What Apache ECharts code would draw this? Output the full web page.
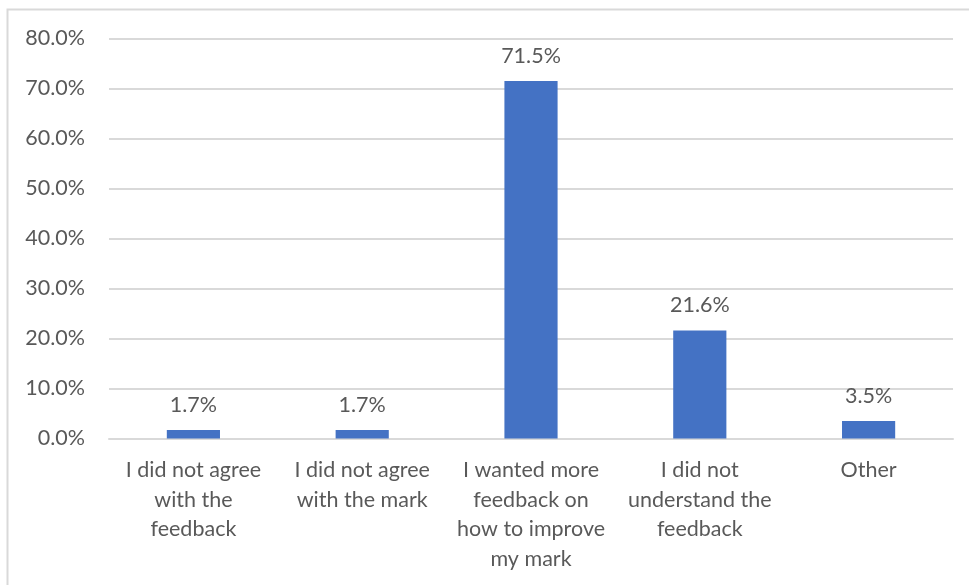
<!DOCTYPE html>
<html><head><meta charset="utf-8">
<script src="https://cdn.jsdelivr.net/npm/echarts@6/dist/echarts.min.js"></script>
<style>html,body{margin:0;padding:0;background:#fff}#c{width:969px;height:585px}</style>
</head><body><div id="c"></div>
<script>
const categories = ["I did not agree\nwith the\nfeedback", "I did not agree\nwith the mark", "I wanted more\nfeedback on\nhow to improve\nmy mark", "I did not\nunderstand the\nfeedback", "Other"];
const values = [1.7, 1.7, 71.5, 21.6, 3.5];
const chart = echarts.init(document.getElementById('c'), null, {renderer: 'canvas'});
const font = 'Lato, "Open Sans", sans-serif';
chart.setOption({
  animation: false,
  graphic: [{type: 'rect', shape: {x: 7.5, y: 9.5, width: 980, height: 600}, style: {fill: 'none', stroke: '#d9d9d9', lineWidth: 2}, silent: true}],
  grid: {left: 109, right: 16, top: 38.5, bottom: 146.5, containLabel: false},
  xAxis: {
    type: 'category', data: categories,
    axisLine: {show: true, lineStyle: {color: '#d9d9d9', width: 2}},
    axisTick: {show: false},
    axisLabel: {color: '#595959', fontSize: 21.5, fontFamily: font, lineHeight: 29.5, margin: 17, interval: 0, verticalAlign: 'top'}
  },
  yAxis: {
    type: 'value', min: 0, max: 80, interval: 10,
    axisLine: {show: false}, axisTick: {show: false},
    splitLine: {lineStyle: {color: '#d9d9d9', width: 2}},
    axisLabel: {color: '#595959', fontSize: 21.5, fontFamily: font, margin: 24, formatter: v => v.toFixed(1) + '%'}
  },
  series: [{
    type: 'bar', data: values, barWidth: '31.5%',
    itemStyle: {color: '#4472C4'},
    label: {show: true, position: 'top', distance: 14, color: '#595959', fontSize: 21.5, fontFamily: font, formatter: p => p.value.toFixed(1) + '%'}
  }]
});
</script></body></html>
